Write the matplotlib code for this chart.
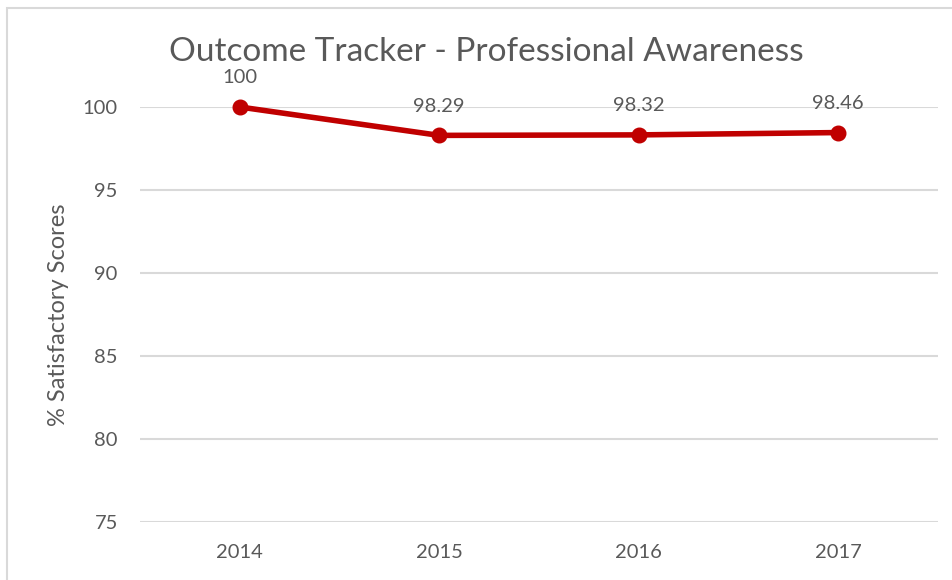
import matplotlib
matplotlib.use("Agg")
import matplotlib.pyplot as plt
from matplotlib.patches import Rectangle

years = ["2014", "2015", "2016", "2017"]
scores = [100, 98.29, 98.32, 98.46]
value_labels = ["100", "98.29", "98.32", "98.46"]
y_ticks = [75, 80, 85, 90, 95, 100]

plt.rcParams["font.family"] = ["Lato", "DejaVu Sans"]
text_color = "#595959"
grid_color = "#D9D9D9"
line_color = "#C00000"

W, H = 952, 580
fig = plt.figure(figsize=(W / 100, H / 100), dpi=100)

# chart frame (extends beyond the right and bottom edges)
fig.patches.append(Rectangle((7 / W, -0.1), 1.2, 1 - 8 / H + 0.1,
                             transform=fig.transFigure, fill=False,
                             edgecolor=grid_color, linewidth=1.5))

ax = fig.add_axes([140 / W, 1 - 522 / H, (938 - 140) / W, (522 - 107) / H])
x = range(len(years))
ax.plot(x, scores, color=line_color, linewidth=4, marker="o",
        markersize=10.5, clip_on=False, zorder=3)
for xi, v, lab in zip(x, scores, value_labels):
    ax.annotate(lab, (xi, v), xytext=(0, 21), textcoords="offset points",
                ha="center", va="center", fontsize=14.5, color=text_color)

ax.set_xlim(-0.5, len(years) - 0.5)
ax.set_ylim(75, 100)
ax.set_yticks(y_ticks)
ax.set_xticks(list(x))
ax.set_xticklabels(years)
ax.grid(axis="y", color=grid_color, linewidth=1.5)
ax.set_axisbelow(True)
for s in ax.spines.values():
    s.set_visible(False)
ax.tick_params(axis="both", length=0, labelsize=14.5, labelcolor=text_color)
ax.tick_params(axis="x", pad=16)
ax.tick_params(axis="y", pad=16)
ax.set_ylabel("% Satisfactory Scores", fontsize=17, color=text_color, labelpad=10)

fig.text(486 / W, 1 - 52 / H, "Outcome Tracker - Professional Awareness",
         ha="center", va="center", fontsize=24, color=text_color)

fig.savefig("out.png", dpi=100)
